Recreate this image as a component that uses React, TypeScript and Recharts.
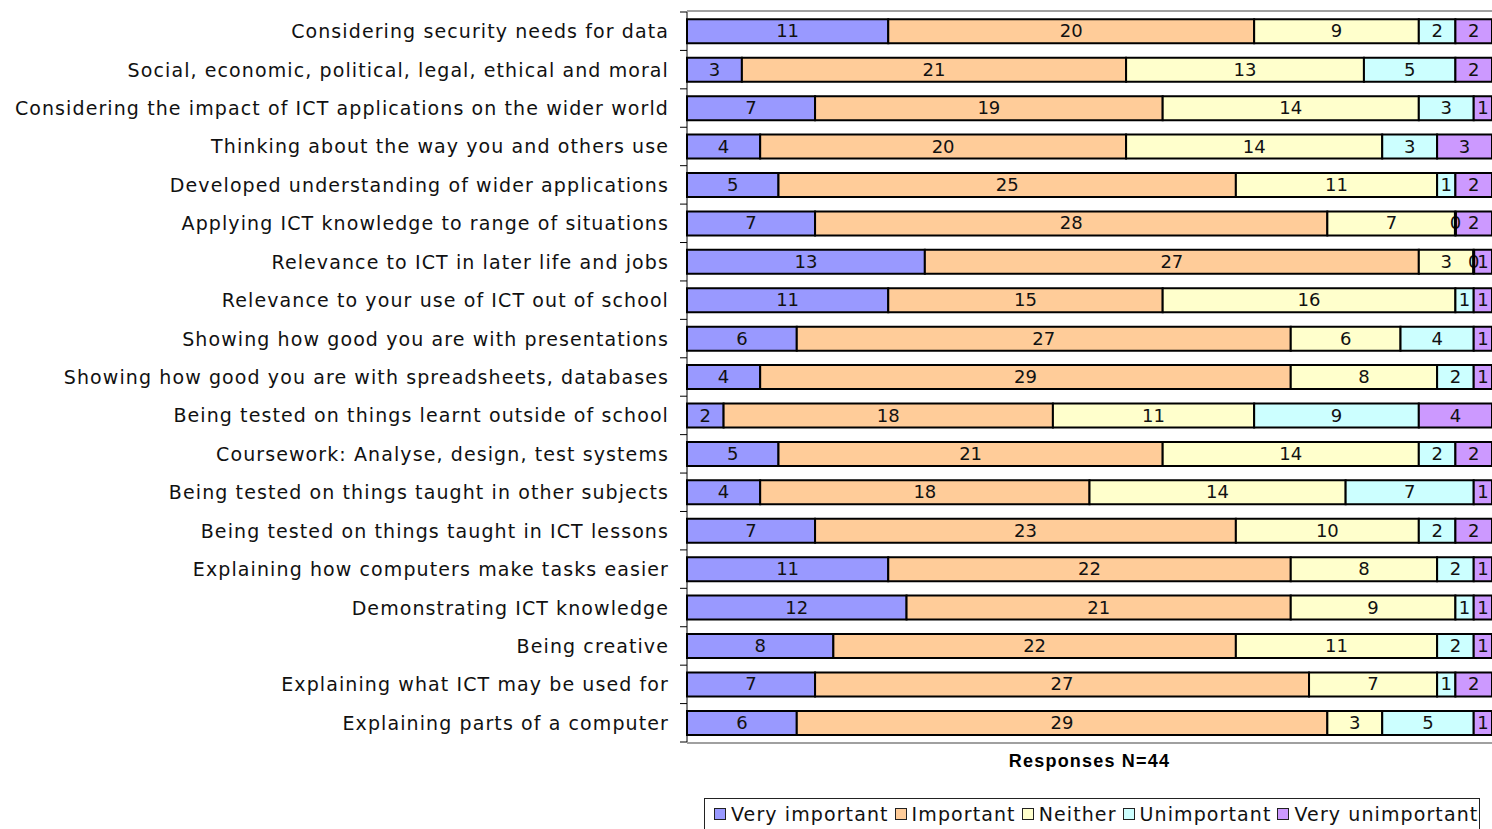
import React from 'react';
import { BarChart, Bar, XAxis, YAxis, CartesianGrid, Legend, LabelList } from 'recharts';

const categories = [
  'Considering security needs for data',
  'Social, economic, political, legal, ethical and moral',
  'Considering the impact of ICT applications on the wider world',
  'Thinking about the way you and others use',
  'Developed understanding of wider applications',
  'Applying ICT knowledge to range of situations',
  'Relevance to ICT in later life and jobs',
  'Relevance to your use of ICT out of school',
  'Showing how good you are with presentations ',
  'Showing how good you are with spreadsheets, databases',
  'Being tested on things learnt outside of school',
  'Coursework: Analyse, design, test systems',
  'Being tested on things taught in other subjects',
  'Being tested on things taught in ICT lessons',
  'Explaining how computers make tasks easier',
  'Demonstrating ICT knowledge ',
  'Being creative',
  'Explaining what ICT may be used for',
  'Explaining parts of a computer',
];

const veryImportant = [11, 3, 7, 4, 5, 7, 13, 11, 6, 4, 2, 5, 4, 7, 11, 12, 8, 7, 6];
const important = [20, 21, 19, 20, 25, 28, 27, 15, 27, 29, 18, 21, 18, 23, 22, 21, 22, 27, 29];
const neither = [9, 13, 14, 14, 11, 7, 3, 16, 6, 8, 11, 14, 14, 10, 8, 9, 11, 7, 3];
const unimportant = [2, 5, 3, 3, 1, 0, 0, 1, 4, 2, 9, 2, 7, 2, 2, 1, 2, 1, 5];
const veryUnimportant = [2, 2, 1, 3, 2, 2, 1, 1, 1, 1, 4, 2, 1, 2, 1, 1, 1, 2, 1];

const series = [
  { key: 'vi', name: 'Very important', color: '#9999FF' },
  { key: 'im', name: 'Important', color: '#FFCC99' },
  { key: 'ne', name: 'Neither', color: '#FFFFCC' },
  { key: 'un', name: 'Unimportant', color: '#CCFFFF' },
  { key: 'vu', name: 'Very unimportant', color: '#CC99FF' },
];

const data = categories.map((name, i) => ({
  name,
  vi: veryImportant[i],
  im: important[i],
  ne: neither[i],
  un: unimportant[i],
  vu: veryUnimportant[i],
}));

const FONT = '"DejaVu Sans", Verdana, sans-serif';
const TOP = 12;
const PLOT_H = 730;
const BAND = PLOT_H / categories.length;

const CategoryTick = (props: any) => {
  const { x, y, payload, index } = props;
  const last = index === categories.length - 1;
  return (
    <g>
      <line x1={x + 17} x2={x + 24} y1={y - BAND / 2} y2={y - BAND / 2} stroke="#000" />
      {last && <line x1={x + 17} x2={x + 24} y1={y + BAND / 2} y2={y + BAND / 2} stroke="#000" />}
      <text x={x + 6} y={y} dy={7} textAnchor="end" fill="#111" fontSize={19} letterSpacing={1.1} fontFamily={FONT}>
        {payload.value}
      </text>
    </g>
  );
};

// segment value in the middle; a zero "Unimportant" count sits as a thick edge + "0" at the end of "Neither"
const SegmentLabel = (props: any) => {
  const { x, y, width, height, value, index, seriesKey } = props;
  if (value === undefined || value === null) return null;
  const cx = x + width / 2;
  const cy = y + height / 2;
  const zeroNext = seriesKey === 'ne' && unimportant[index] === 0;
  return (
    <g>
      <text x={cx} y={cy} dy={6} textAnchor="middle" fill="#111" fontSize={18} fontFamily={FONT}>
        {value}
      </text>
      {zeroNext && (
        <g>
          <text x={x + width} y={cy} dy={6} textAnchor="middle" fill="#111" fontSize={18} fontFamily={FONT}>
            0
          </text>
          <line x1={x + width} x2={x + width} y1={y} y2={y + height} stroke="#000" strokeWidth={3} />
        </g>
      )}
    </g>
  );
};

const LegendBox = () => (
  <div
    style={{
      border: '1px solid #222',
      display: 'flex',
      alignItems: 'flex-start',
      height: 44,
      paddingLeft: 8,
      paddingTop: 4,
      width: 776,
      boxSizing: 'border-box',
      fontFamily: FONT,
      fontSize: 19,
      letterSpacing: 1.1,
      color: '#111',
      whiteSpace: 'nowrap',
    }}
  >
    {series.map((s, i) => (
      <span key={s.key} style={{ display: 'inline-flex', alignItems: 'center' }}>
        <span
          style={{
            display: 'inline-block',
            width: 10,
            height: 10,
            background: s.color,
            border: '1px solid #222',
            marginRight: 5,
            marginLeft: i === 0 ? 1 : 6,
          }}
        />
        {s.name}
      </span>
    ))}
  </div>
);

export default function App() {
  return (
    <div style={{ position: 'absolute', left: 0, top: 0, width: 1492, height: 829, background: '#fff', overflow: 'hidden' }}>
      <BarChart
        width={1492}
        height={829}
        data={data}
        layout="vertical"
        margin={{ top: TOP, right: 0, left: 0, bottom: 57 }}
        barCategoryGap="19%"
      >
        <CartesianGrid
          vertical={false}
          stroke="#a0a0a0"
          strokeWidth={2}
          horizontalCoordinatesGenerator={({ offset }: any) => [offset.top - 1, offset.top + offset.height + 1]}
        />
        <XAxis
          type="number"
          domain={[0, 44]}
          ticks={[]}
          tick={false}
          axisLine={false}
          tickLine={false}
          height={30}
          label={{
            value: 'Responses N=44',
            position: 'insideTop',
            offset: 12,
            style: {
              fontFamily: 'Arial, "Liberation Sans", sans-serif',
              fontWeight: 'bold',
              fontSize: 18,
              letterSpacing: 1.2,
              fill: '#000',
            },
          }}
        />
        <YAxis
          type="category"
          dataKey="name"
          width={687}
          axisLine={{ stroke: '#000' }}
          tickLine={false}
          tick={<CategoryTick />}
          interval={0}
          tickMargin={18}
        />
        <Legend
          layout="horizontal"
          verticalAlign="middle"
          align="center"
          wrapperStyle={{ position: 'absolute', left: 704, top: 798, width: 776 }}
          content={() => <LegendBox />}
        />
        {series.map((s) => (
          <Bar
            key={s.key}
            dataKey={s.key}
            name={s.name}
            stackId="a"
            fill={s.color}
            stroke="#000"
            strokeWidth={2}
            isAnimationActive={false}
          >
            <LabelList dataKey={s.key} content={<SegmentLabel seriesKey={s.key} />} />
          </Bar>
        ))}
      </BarChart>
    </div>
  );
}
